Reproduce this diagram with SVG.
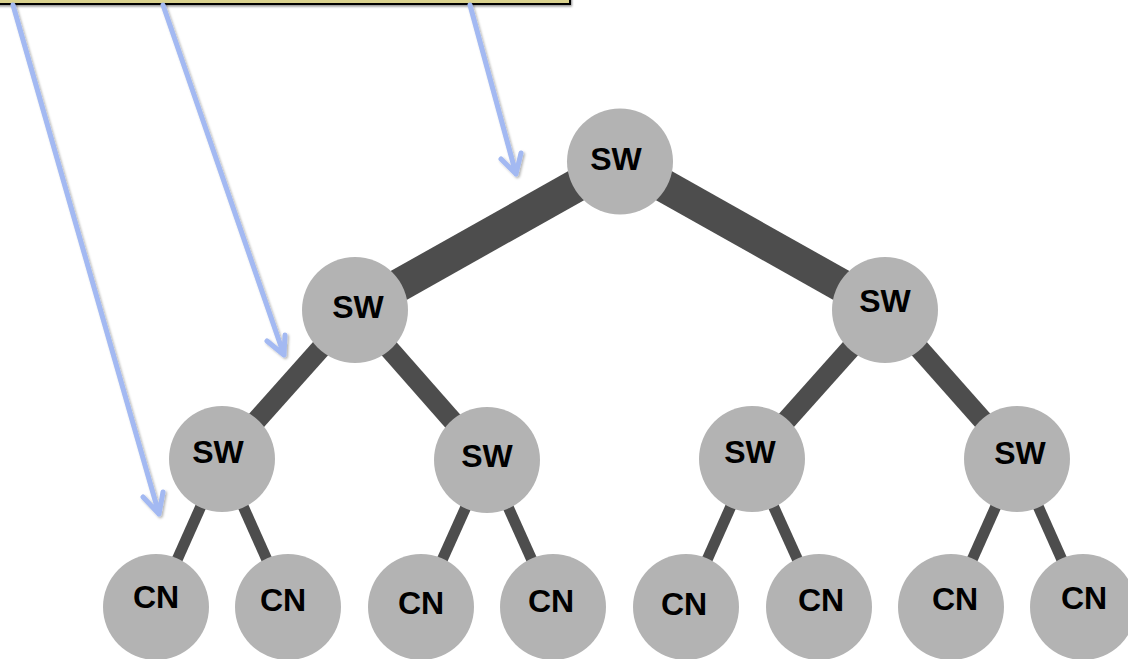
<svg xmlns="http://www.w3.org/2000/svg" width="1128" height="659" viewBox="0 0 1128 659">
  <style>
    .node { fill: #b3b3b3; }
    .lbl { font-family: "Liberation Sans", Arial, sans-serif; font-weight: bold; font-size: 32px; fill: #000; text-anchor: middle; }
    .link { stroke: #4d4d4d; stroke-linecap: butt; fill: none; }
    .l1 { stroke-width: 33; }
    .l2 { stroke-width: 20; }
    .l3 { stroke-width: 11; }
    .ptr { stroke: #a3b9f2; stroke-width: 5; fill: none; stroke-linecap: round; stroke-linejoin: round; filter: url(#soft); }
  </style>
  <defs>
    <filter id="soft" x="-20%" y="-20%" width="140%" height="140%">
      <feDropShadow dx="1.5" dy="1.5" stdDeviation="1.2" flood-color="#000" flood-opacity="0.3"/>
    </filter>
    <filter id="boxshadow" x="-5%" y="-50%" width="110%" height="200%">
      <feDropShadow dx="1" dy="1.5" stdDeviation="1" flood-color="#000" flood-opacity="0.45"/>
    </filter>
  </defs>

  <rect width="1128" height="659" fill="#ffffff"/>

  <!-- callout box (top edge runs off the page) -->
  <g id="callout">
    <rect x="-10" y="-40" width="580" height="44" fill="#dad28e" stroke="#000" stroke-width="2" filter="url(#boxshadow)"/>
  </g>

  <!-- tree links -->
  <g id="links">
    <line class="link l1" x1="620" y1="161" x2="355" y2="310"/>
    <line class="link l1" x1="620" y1="161" x2="885" y2="310"/>
    <line class="link l2" x1="355" y1="310" x2="222" y2="459"/>
    <line class="link l2" x1="355" y1="310" x2="487" y2="460"/>
    <line class="link l2" x1="885" y1="310" x2="752" y2="459"/>
    <line class="link l2" x1="885" y1="310" x2="1017" y2="459"/>
    <line class="link l3" x1="222" y1="459" x2="156" y2="607"/>
    <line class="link l3" x1="222" y1="459" x2="288" y2="607"/>
    <line class="link l3" x1="487" y1="460" x2="421" y2="607"/>
    <line class="link l3" x1="487" y1="460" x2="553" y2="607"/>
    <line class="link l3" x1="752" y1="459" x2="686" y2="607"/>
    <line class="link l3" x1="752" y1="459" x2="819" y2="607"/>
    <line class="link l3" x1="1017" y1="459" x2="951" y2="607"/>
    <line class="link l3" x1="1017" y1="459" x2="1083" y2="607"/>
  </g>

  <!-- switches -->
  <g id="sw-root"><circle class="node" cx="620" cy="161.5" r="53"/><text class="lbl" x="616" y="170">SW</text></g>
  <g id="sw-l"><circle class="node" cx="355" cy="310" r="53"/><text class="lbl" x="358" y="318">SW</text></g>
  <g id="sw-r"><circle class="node" cx="885" cy="310" r="53"/><text class="lbl" x="885" y="312">SW</text></g>
  <g id="sw-ll"><circle class="node" cx="222" cy="459" r="53"/><text class="lbl" x="218" y="463">SW</text></g>
  <g id="sw-lr"><circle class="node" cx="487" cy="460" r="53"/><text class="lbl" x="487" y="467">SW</text></g>
  <g id="sw-rl"><circle class="node" cx="752" cy="459" r="53"/><text class="lbl" x="750" y="463">SW</text></g>
  <g id="sw-rr"><circle class="node" cx="1017" cy="459" r="53"/><text class="lbl" x="1020" y="464">SW</text></g>

  <!-- compute nodes -->
  <g id="cn1"><circle class="node" cx="156" cy="607" r="53"/><text class="lbl" x="156" y="608">CN</text></g>
  <g id="cn2"><circle class="node" cx="288" cy="607" r="53"/><text class="lbl" x="283" y="611">CN</text></g>
  <g id="cn3"><circle class="node" cx="421" cy="607" r="53"/><text class="lbl" x="421" y="614">CN</text></g>
  <g id="cn4"><circle class="node" cx="553" cy="607" r="53"/><text class="lbl" x="551" y="612">CN</text></g>
  <g id="cn5"><circle class="node" cx="686" cy="607" r="53"/><text class="lbl" x="684" y="615">CN</text></g>
  <g id="cn6"><circle class="node" cx="819" cy="607" r="53"/><text class="lbl" x="821" y="611">CN</text></g>
  <g id="cn7"><circle class="node" cx="951" cy="607" r="53"/><text class="lbl" x="955" y="610">CN</text></g>
  <g id="cn8"><circle class="node" cx="1083" cy="607" r="53"/><text class="lbl" x="1084" y="609">CN</text></g>

  <!-- pointers from the callout -->
  <g id="pointers">
    <path class="ptr" d="M13,5 L159,514 M143,497 L159,514 L163,492"/>
    <path class="ptr" d="M163,5 L284,355 M267,341 L284,355 L285,335"/>
    <path class="ptr" d="M470,5 L516,174 M501,159 L516,174 L521,153"/>
  </g>
</svg>
